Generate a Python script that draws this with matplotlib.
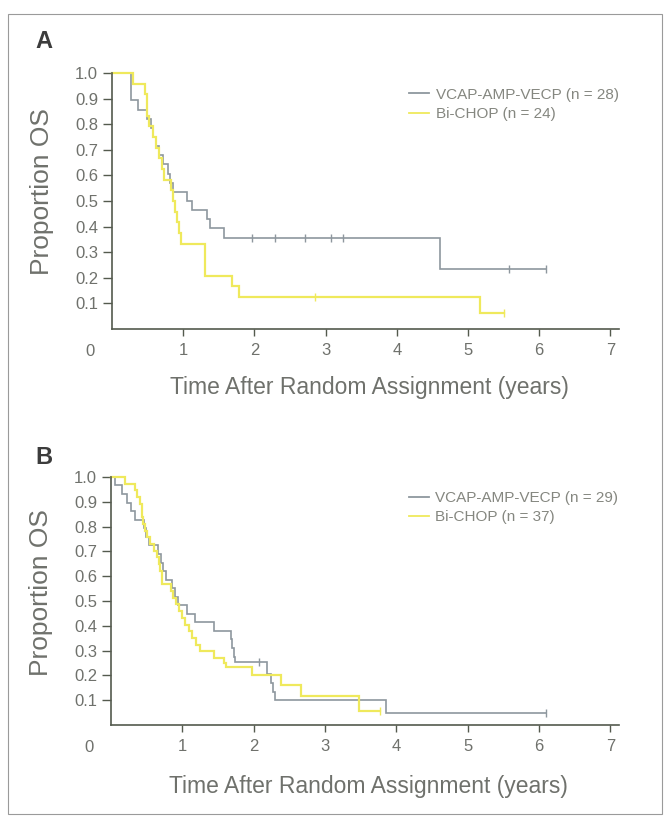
import numpy as np
import matplotlib
matplotlib.use('Agg')
import matplotlib.pyplot as plt

# --- panel A: survival steps (time in years, proportion after the step) ---
a_vcap_t = [0.26, 0.37, 0.49, 0.55, 0.58, 0.62, 0.66, 0.72, 0.78, 0.82, 0.86,
            1.06, 1.13, 1.33, 1.38, 1.57, 4.60]
a_vcap_s = [0.893, 0.857, 0.821, 0.786, 0.750, 0.714, 0.679, 0.643, 0.607, 0.571, 0.536,
            0.500, 0.464, 0.429, 0.393, 0.357, 0.235]
a_vcap_cens = [1.96, 2.29, 2.71, 3.07, 3.24, 5.58, 6.10]

a_chop_t = [0.30, 0.47, 0.49, 0.52, 0.58, 0.62, 0.66, 0.70, 0.73, 0.83, 0.86, 0.88,
            0.91, 0.94, 0.97, 1.30, 1.68, 1.78, 5.17]
a_chop_s = [0.958, 0.917, 0.833, 0.792, 0.750, 0.708, 0.667, 0.625, 0.583, 0.542, 0.500, 0.458,
            0.417, 0.375, 0.333, 0.208, 0.167, 0.125, 0.0625]
a_chop_cens = [2.85, 5.50]

# --- panel B ---
b_vcap_t = [0.05, 0.16, 0.22, 0.28, 0.34, 0.46, 0.49, 0.53, 0.66, 0.70, 0.73, 0.77,
            0.86, 0.89, 0.94, 1.06, 1.18, 1.45, 1.68, 1.70, 1.72, 1.74,
            2.19, 2.24, 2.27, 2.30, 3.86]
b_vcap_s = [0.966, 0.931, 0.897, 0.862, 0.828, 0.793, 0.759, 0.724, 0.690, 0.655, 0.621, 0.586,
            0.552, 0.517, 0.483, 0.448, 0.414, 0.379, 0.345, 0.310, 0.276, 0.255,
            0.205, 0.170, 0.135, 0.100, 0.048]
b_vcap_cens = [2.07, 6.10]

b_chop_t = [0.20, 0.33, 0.37, 0.40, 0.43, 0.45, 0.47, 0.50, 0.55, 0.60, 0.64, 0.67, 0.69,
            0.71, 0.72, 0.84, 0.87, 0.91, 0.95, 1.00, 1.04, 1.09, 1.14, 1.19, 1.25,
            1.45, 1.58, 1.61, 1.97, 2.38, 2.66, 3.47]
b_chop_s = [0.973, 0.946, 0.919, 0.892, 0.838, 0.811, 0.784, 0.757, 0.730, 0.703, 0.676, 0.649, 0.622,
            0.595, 0.568, 0.541, 0.514, 0.486, 0.459, 0.432, 0.405, 0.378, 0.351, 0.324, 0.297,
            0.270, 0.250, 0.235, 0.200, 0.162, 0.115, 0.055]
b_chop_cens = [3.77]

yticks = [0.1, 0.2, 0.3, 0.4, 0.5, 0.6, 0.7, 0.8, 0.9, 1.0]
xticks = [1, 2, 3, 4, 5, 6, 7]

GRAY_CURVE = '#8e979e'
YELLOW = '#efe95c'
AXIS_COL = '#545a4e'
TEXT_COL = '#6f716c'
LEGEND_COL = '#858780'

plt.rcParams['font.family'] = ['Liberation Sans', 'DejaVu Sans']


def km_curve(ax, t, s, cens, color, lw, label):
    end = max(cens)
    tt = [0.0] + list(t) + [end]
    ss = [1.0] + list(s) + [s[-1]]
    ax.step(tt, ss, where='post', color=color, lw=lw, clip_on=False,
            solid_joinstyle='miter', label=label)
    idx = np.searchsorted(t, cens, side='right')
    ys = [1.0 if i == 0 else s[i - 1] for i in idx]
    ax.plot(cens, ys, ls='none', marker='|', ms=6, mew=1.0, color=color, clip_on=False)


def setup(ax, letter, letter_y, xlabel_y):
    ax.set_xlim(0, 7.12)
    ax.set_ylim(0, 1.0)
    for side in ['top', 'right']:
        ax.spines[side].set_visible(False)
    for side in ['left', 'bottom']:
        ax.spines[side].set_color(AXIS_COL)
        ax.spines[side].set_linewidth(1.2)
    ax.set_yticks(yticks)
    ax.set_yticklabels([f'{v:.1f}' for v in yticks])
    ax.set_xticks(xticks)
    ax.tick_params(axis='y', length=6.5, width=1.0, pad=3.5, color=AXIS_COL,
                   labelcolor=TEXT_COL, labelsize=12)
    ax.tick_params(axis='x', length=5, width=1.0, pad=5, color=AXIS_COL,
                   labelcolor=TEXT_COL, labelsize=12)
    ax.annotate('0', xy=(0, 0), xytext=(-16, -16.5), textcoords='offset points',
                ha='center', va='center', fontsize=12, color=TEXT_COL)
    ax.set_ylabel('Proportion OS', fontsize=19, color=TEXT_COL, va='center')
    ax.yaxis.set_label_coords(-0.138, 0.535)
    ax.set_xlabel('Time After Random Assignment (years)', fontsize=16.5, color=TEXT_COL,
                  va='center')
    ax.xaxis.set_label_coords(0.507, xlabel_y)
    fig.text(44 / 664, 1 - letter_y / 818, letter, fontsize=17, fontweight='bold',
             color='#3c3c3c', ha='center', va='center')
    leg = ax.legend(loc='upper left', bbox_to_anchor=(0.586, 0.943), frameon=False,
                    fontsize=11, handlelength=1.3, handletextpad=0.45,
                    labelspacing=0.35, borderpad=0, borderaxespad=0, labelcolor=LEGEND_COL)
    for line in leg.get_lines():
        line.set_linewidth(1.3)


fig = plt.figure(figsize=(6.64, 8.18), dpi=100)

# thin frame round the figure
fig.add_artist(plt.Rectangle((8 / 664, 4 / 818), 654 / 664, 800 / 818, fill=False,
                             edgecolor='#9a9a9a', lw=0.8, transform=fig.transFigure))

ax_a = fig.add_axes([112 / 664, 1 - 329 / 818, 507 / 664, 256 / 818])
km_curve(ax_a, a_vcap_t, a_vcap_s, a_vcap_cens, GRAY_CURVE, 1.2, 'VCAP-AMP-VECP (n = 28)')
km_curve(ax_a, a_chop_t, a_chop_s, a_chop_cens, YELLOW, 1.6, 'Bi-CHOP (n = 24)')
setup(ax_a, 'A', 42, -0.23)

ax_b = fig.add_axes([111 / 664, 1 - 725 / 818, 508 / 664, 248 / 818])
km_curve(ax_b, b_vcap_t, b_vcap_s, b_vcap_cens, GRAY_CURVE, 1.2, 'VCAP-AMP-VECP (n = 29)')
km_curve(ax_b, b_chop_t, b_chop_s, b_chop_cens, YELLOW, 1.6, 'Bi-CHOP (n = 37)')
setup(ax_b, 'B', 457, -0.25)

fig.savefig('out.png', dpi=100)
plt.close(fig)
